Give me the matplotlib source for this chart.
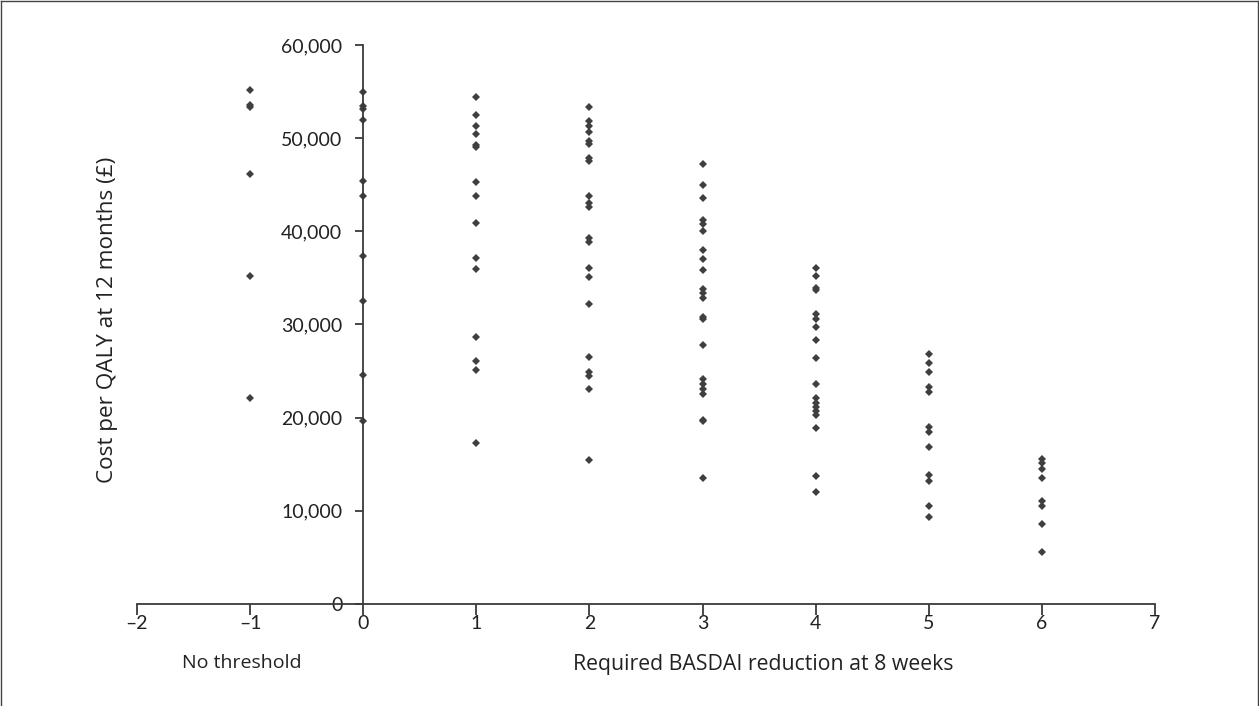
import matplotlib.pyplot as plt
from matplotlib.lines import Line2D

plt.rcParams['font.family'] = ['Lato', 'DejaVu Sans']

# cost per QALY (GBP) at each BASDAI threshold, -1 = no threshold
thresholds = [-1, 0, 1, 2, 3, 4, 5, 6]
costs = {
    -1: [55200, 53600, 53300, 46200, 35200, 22100],
    0: [55000, 53400, 53100, 51950, 45450, 43750, 37400, 32500, 24600, 19650],
    1: [54400, 52450, 51350, 50400, 49300, 49000, 45300, 43750, 40850, 37150,
        35950, 28650, 26050, 25150, 17250],
    2: [53300, 51800, 51300, 50650, 49650, 49350, 47850, 47600, 43750, 43050,
        42650, 39300, 38850, 36050, 35050, 32150, 26550, 24950, 24450, 23050,
        15500],
    3: [47250, 44950, 43600, 41250, 40750, 40050, 37950, 37000, 35850, 33850,
        33400, 32800, 30850, 30600, 27750, 24100, 23600, 23100, 22500, 19800,
        19600, 13550],
    4: [36050, 35250, 33950, 33700, 31100, 30600, 29700, 28300, 26350, 23650,
        22150, 21600, 21100, 20700, 20300, 18850, 13750, 12050],
    5: [26800, 25900, 24850, 23300, 22700, 18950, 18500, 16850, 13850, 13150,
        10500, 9350],
    6: [15600, 15100, 14450, 13500, 11100, 10500, 8550, 5600],
}
xticks = [-2, -1, 0, 1, 2, 3, 4, 5, 6, 7]
xticklabels = ['–2', '–1', '0', '1', '2', '3', '4', '5', '6', '7']
yticks = [0, 10000, 20000, 30000, 40000, 50000, 60000]

axis_col = '#3a3a3a'
text_col = '#222222'
label_font = ['Open Sans', 'DejaVu Sans']

fig = plt.figure(figsize=(12.59, 7.06), dpi=100)
ax = fig.add_axes([0.1088, 0.1445, 0.8086, 0.7918])

for t in thresholds:
    ax.plot([t] * len(costs[t]), costs[t], linestyle='none', marker='D',
            markersize=4.2, color='#3f3f3f', markeredgewidth=0)

ax.set_xlim(-2, 7)
ax.set_ylim(0, 60000)

ax.spines['top'].set_visible(False)
ax.spines['right'].set_visible(False)
ax.spines['left'].set_position(('data', 0))
for s in ['left', 'bottom']:
    ax.spines[s].set_color(axis_col)
    ax.spines[s].set_linewidth(1.3)

ax.set_xticks(xticks)
ax.set_xticklabels(xticklabels)
ax.set_yticks(yticks)
ax.set_yticklabels([f'{v:,}' for v in yticks])
ax.tick_params(axis='both', colors=axis_col, labelcolor=text_col,
               labelsize=14, width=1.3)
ax.tick_params(axis='x', length=8, pad=0)
ax.tick_params(axis='y', length=6, pad=9)

ax.text(-1.07, -0.09, 'No threshold', transform=ax.get_xaxis_transform(),
        ha='center', va='top', fontsize=14, color=text_col, family=label_font)
ax.text(3.54, -0.09, 'Required BASDAI reduction at 8 weeks',
        transform=ax.get_xaxis_transform(), ha='center', va='top',
        fontsize=15.3, color=text_col, family=label_font)
fig.text(108 / 1259, 1 - 320 / 706, 'Cost per QALY at 12 months (£)',
         rotation=90, ha='center', va='center', fontsize=16.2, color=text_col,
         family=label_font)

# thin frame round the figure
for xs, ys in [([0.001, 0.999], [0.998, 0.998]), ([0.001, 0.001], [0, 0.998]),
               ([0.999, 0.999], [0, 0.998])]:
    fig.add_artist(Line2D(xs, ys, transform=fig.transFigure, color='#444444',
                          linewidth=1))

fig.savefig('out.png', dpi=100)
